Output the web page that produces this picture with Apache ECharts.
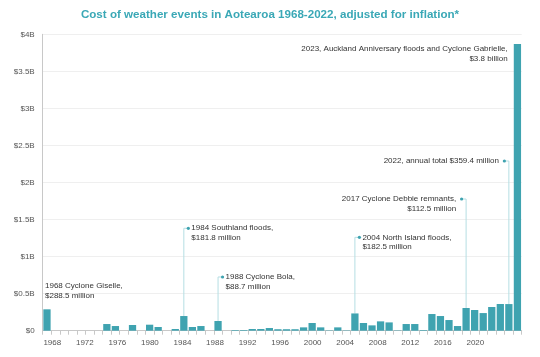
<!DOCTYPE html>
<html><head><meta charset="utf-8">
<script src="https://cdn.jsdelivr.net/npm/echarts@6/dist/echarts.min.js"></script>
<style>html,body{margin:0;padding:0;background:#fff}#c{width:540px;height:357px}</style>
</head><body><div id="c"></div>
<script>
// ---- data ----
const years = ['1968','1969','1970','1971','1972','1973','1974','1975','1976','1977',
  '1978','1979','1980','1981','1982','1983','1984','1985','1986','1987',
  '1988','1989','1990','1991','1992','1993','1994','1995','1996','1997',
  '1998','1999','2000','2001','2002','2003','2004','2005','2006','2007',
  '2008','2009','2010','2011','2012','2013','2014','2015','2016','2017',
  '2018','2019','2020','2021','2022','2023'];
// cost in NZ$ million (inflation adjusted)
const costs = [288.5,0,0,0,0,0,0,90,63,0,
  77,0,81,50,0,23,198,50,63,0,
  131,0,9,9,23,23,36,20,20,20,
  45,104,45,5,45,5,233,104,72,126,
  112,5,90,90,9,225,198,144,63,306,
  279,238,320,360,359.4,3870];
const yTicks = [0,500,1000,1500,2000,2500,3000,3500,4000];
const yTickLabels = ['$0','$0.5B','$1B','$1.5B','$2B','$2.5B','$3B','$3.5B','$4B'];
const xTickYears = [1968,1972,1976,1980,1984,1988,1992,1996,2000,2004,2008,2012,2016,2020];
const titleText = 'Cost of weather events in Aotearoa 1968-2022, adjusted for inflation*';
const annotations = [
  {year:'1968', kind:'above', lines:['1968 Cyclone Giselle,','$288.5 million'], level:607},
  {year:'1984', kind:'right', lines:['1984 Southland floods,','$181.8 million'], level:1382},
  {year:'1988', kind:'right', lines:['1988 Cyclone Bola,','$88.7 million'], level:725},
  {year:'2004', kind:'right', lines:['2004 North Island floods,','$182.5 million'], level:1260},
  {year:'2017', kind:'left', lines:['2017 Cyclone Debbie remnants,','$112.5 million'], level:1777},
  {year:'2022', kind:'left', lines:['2022, annual total $359.4 million'], level:2290},
  {year:'2023', kind:'besideLeft', lines:['2023, Auckland Anniversary floods and Cyclone Gabrielle,','$3.8 billion'], level:3802}
];

// ---- chart ----
const FONT = '"Liberation Sans", Arial, sans-serif';
const TEAL = '#3fa3b0';
const chart = echarts.init(document.getElementById('c'), null, {renderer:'canvas'});
chart.setOption({
  animation:false,
  backgroundColor:'#fff',
  title:{text:titleText, left:'center', top:4,
    textStyle:{fontFamily:FONT, fontSize:11.6, fontWeight:'bold', color:'#3aa8b6'}},
  grid:{left:42.7, right:18.3, top:34.3, bottom:26.3, containLabel:false, outerBoundsMode:'none'},
  xAxis:[
    {type:'category', data:years, boundaryGap:true,
     axisLine:{lineStyle:{color:'#c8c8c8'}},
     axisTick:{show:true, interval:0, length:4, lineStyle:{color:'#c8c8c8'}},
     axisLabel:{show:false}, splitLine:{show:false}},
    {type:'value', min:1966.82, max:2025.7, position:'bottom',
     axisLine:{show:false}, axisTick:{show:false}, splitLine:{show:false},
     axisLabel:{customValues:xTickYears, formatter:v=>String(v), margin:8,
       fontFamily:FONT, fontSize:8, color:'#555'}}
  ],
  yAxis:{type:'value', min:0, max:4000, interval:500,
    axisLine:{show:true, lineStyle:{color:'#c8c8c8'}},
    axisTick:{show:false},
    splitLine:{lineStyle:{color:'#efefef'}},
    axisLabel:{margin:8, fontFamily:FONT, fontSize:8, color:'#555',
      formatter:v=>{const i=yTicks.indexOf(v);return i>=0?yTickLabels[i]:'';}}},
  series:[{type:'bar', data:costs, xAxisIndex:0, yAxisIndex:0,
    barCategoryGap:'15%', itemStyle:{color:TEAL}}]
});

function drawAnnotations(){
  const g = [];
  const p0 = chart.convertToPixel({seriesIndex:0},[0,0]);
  const p1 = chart.convertToPixel({seriesIndex:0},[1,0]);
  const band = p1[0]-p0[0];
  const LH = 9.7;
  const txt = (x,y,s,align)=>({type:'text', x:x, y:y, silent:true,
    style:{text:s, fill:'#333', font:'8px '+FONT, textAlign:align, textVerticalAlign:'middle'}});
  annotations.forEach(a=>{
    const idx = years.indexOf(a.year);
    const top = chart.convertToPixel({seriesIndex:0},[idx, costs[idx]]);
    const anc = chart.convertToPixel({seriesIndex:0},[idx, a.level]);
    const bx = top[0];
    if(a.kind==='above'){
      a.lines.forEach((s,i)=>g.push(txt(bx-band/2+2.3, anc[1]+i*LH, s, 'left')));
    } else if(a.kind==='besideLeft'){
      a.lines.forEach((s,i)=>g.push(txt(bx-band/2-5.5, anc[1]+i*LH, s, 'right')));
    } else {
      const dir = a.kind==='right'?1:-1;
      const dx = bx+dir*4.5;
      g.push({type:'polyline', silent:true, shape:{points:[[bx,top[1]],[bx,anc[1]],[dx,anc[1]]]},
        style:{stroke:'#b5dee3', lineWidth:1, fill:null}});
      g.push({type:'circle', silent:true, shape:{cx:dx, cy:anc[1], r:1.6}, style:{fill:TEAL}});
      const tx = dir>0 ? dx+3 : dx-5.5;
      a.lines.forEach((s,i)=>g.push(txt(tx, anc[1]+i*LH, s, dir>0?'left':'right')));
    }
  });
  chart.setOption({graphic:g});
}
drawAnnotations();
</script>
</body></html>
